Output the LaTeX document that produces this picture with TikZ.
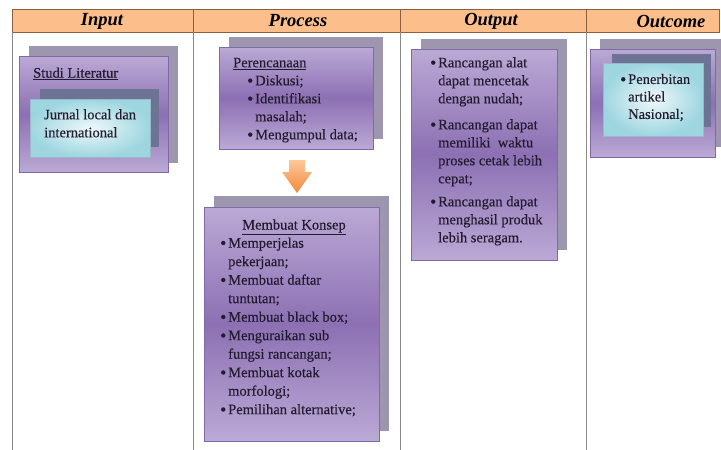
\documentclass[tikz,border=0pt]{standalone}
\usepackage{fontspec}
\setmainfont{Liberation Serif}
\newfontfamily\bodyfont[FakeBold=0.35]{Liberation Serif}
\definecolor{hfill}{HTML}{FCBF8B}
\definecolor{hborder}{HTML}{8C5E3C}
\definecolor{gline}{HTML}{8A8A8A}
\definecolor{shgrey}{HTML}{9D96AE}
\definecolor{plight}{HTML}{BBA9D5}
\definecolor{pdark}{HTML}{8C70B3}
\definecolor{pborder}{HTML}{7D6AA6}
\definecolor{slate}{HTML}{6D7395}
\definecolor{clight}{HTML}{EEF8FA}
\definecolor{cdark}{HTML}{9ED6E0}
\definecolor{cborder}{HTML}{9AB8C8}
\definecolor{tdark}{HTML}{231B30}
\definecolor{olight}{HTML}{FCC89A}
\definecolor{odark}{HTML}{F5883A}
\newcommand{\bul}{\makebox[8pt][l]{\raisebox{-1.1pt}{\scalebox{1.2}{\textbullet}}}}
\begin{document}
\begin{tikzpicture}[x=1pt,y=-1pt,
  hdr/.style={font=\fontsize{18.5}{20}\selectfont\bfseries\itshape, text=black, inner sep=0, anchor=center},
  shadowbox/.style={fill=shgrey},
  purplebox/.style={draw=pborder, line width=0.6pt, top color=plight, bottom color=plight, middle color=pdark},
  darkbox/.style={fill=slate},
  cyanbox/.style={draw=cborder, line width=0.4pt, inner color=clight, outer color=cdark},
  txt/.style={font=\bodyfont\fontsize{14.5}{18.5}\selectfont, text=tdark, inner sep=0, anchor=north west, align=left},
  ttl/.style={font=\bodyfont\fontsize{14.5}{18.5}\selectfont, text=tdark, inner sep=0, anchor=base},
  gridline/.style={draw=gline, line width=0.6pt},
  hline/.style={draw=hborder, line width=0.8pt},
]
\useasboundingbox (0,0) rectangle (721,450);
\fill[white] (0,0) rectangle (721,450);
% table
\draw[hline, fill=hfill] (12,9) rectangle (719,32);
\draw[hline] (193.5,9) -- (193.5,32);
\draw[hline] (400,9) -- (400,32);
\draw[hline] (586,9) -- (586,32);
\draw[gridline] (12,32) -- (12,450);
\draw[gridline] (193.5,32) -- (193.5,450);
\draw[gridline] (400,32) -- (400,450);
\draw[gridline] (586,32) -- (586,450);
\node[hdr] (hin) at (102,21) {Input};
\node[hdr] (hpr) at (298,21) {Process};
\node[hdr] (hout) at (491,21) {Output};
\node[hdr] (hoc) at (671,21) {Outcome};
% input
\fill[shadowbox] (29,46) rectangle (178,163);
\draw[purplebox] (19,56) rectangle (168,172);
\fill[darkbox] (40,89) rectangle (159,147);
\draw[cyanbox] (30,99) rectangle (150,157);
\node[txt] (studi) at (33,64.5) {\strut\underline{Studi Literatur}};
\node[txt, font=\bodyfont\fontsize{14.5}{18}\selectfont] (jurnal) at (44,106.5) {\strut Jurnal local dan\\international};
% process: perencanaan
\fill[shadowbox] (229,37) rectangle (383,139);
\draw[purplebox] (219,47) rectangle (373,149);
\node[txt, font=\bodyfont\fontsize{14.5}{18}\selectfont] (peren) at (233,54.5) {\strut\underline{Perencanaan}\\
\hspace*{14pt}\bul Diskusi;\\
\hspace*{14pt}\bul Identifikasi\\
\hspace*{22pt}masalah;\\
\hspace*{14pt}\bul Mengumpul data;};
% arrow
\shade[top color=olight, bottom color=odark] (289,160) -- (305,160) -- (305,172) -- (312,172) -- (297,193) -- (282,172) -- (289,172) -- cycle;
% process: konsep
\fill[shadowbox] (214,196) rectangle (389,431);
\draw[purplebox] (204,207) rectangle (379,441);
\node[ttl] (konsep) at (294,229.5) {\underline{Membuat Konsep}};
\node[txt] (konseplist) at (220,234.5) {\strut\bul Memperjelas\\
\hspace*{8pt}pekerjaan;\\
\bul Membuat daftar\\
\hspace*{8pt}tuntutan;\\
\bul Membuat black box;\\
\bul Menguraikan sub\\
\hspace*{8pt}fungsi rancangan;\\
\bul Membuat kotak\\
\hspace*{8pt}morfologi;\\
\bul Pemilihan alternative;};
% output
\fill[shadowbox] (421,39) rectangle (567,250);
\draw[purplebox] (411,49) rectangle (557,260);
\node[txt, font=\bodyfont\fontsize{14.5}{18}\selectfont] (outlist) at (430,54.5) {\strut\bul Rancangan alat\\
\hspace*{8pt}dapat mencetak\\
\hspace*{8pt}dengan nudah;\\[8pt]
\bul Rancangan dapat\\
\hspace*{8pt}memiliki\ \ waktu\\
\hspace*{8pt}proses cetak lebih\\
\hspace*{8pt}cepat;\\[5pt]
\bul Rancangan dapat\\
\hspace*{8pt}menghasil produk\\
\hspace*{8pt}lebih seragam.};
% outcome
\fill[shadowbox] (600,39) rectangle (721,147);
\draw[purplebox] (590,49) rectangle (715,157);
\fill[darkbox] (612,54) rectangle (711,127);
\draw[cyanbox] (603,63) rectangle (703,136);
\node[txt, font=\bodyfont\fontsize{14.5}{17.5}\selectfont] (oclist) at (620,71.5) {\strut\bul Penerbitan\\
\hspace*{8pt}artikel\\
\hspace*{8pt}Nasional;};
\end{tikzpicture}
\end{document}
